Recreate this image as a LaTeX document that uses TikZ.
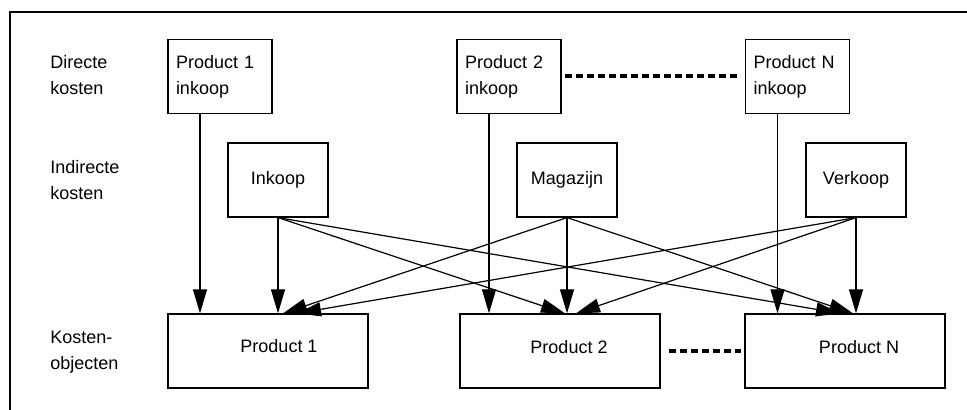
\documentclass[tikz,border=0pt]{standalone}
\usepackage{fontspec}
\setmainfont{Liberation Sans}
\usetikzlibrary{arrows.meta,positioning}

\tikzset{
  kostbox/.style={draw,line width=0.6pt,rectangle,minimum height=37pt,inner sep=0pt},
  directbox/.style={kostbox,minimum width=52pt,text width=44pt,inner xsep=4pt,align=left},
  indirectbox/.style={kostbox,minimum width=50pt},
  objectbox/.style={kostbox,minimum width=100pt},
  rijlabel/.style={anchor=west,align=left,inner sep=0pt},
  pijl/.style={line width=0.6pt,-{Triangle[length=12pt,width=7pt]}},
  puntjes/.style={line width=2pt,dash pattern=on 3.5pt off 2pt}
}

\begin{document}
\begin{tikzpicture}[x=0.5pt,y=-0.5pt,font=\fontsize{9pt}{13pt}\selectfont]
	\useasboundingbox (0,0) rectangle (967,410);
	\draw[line width=0.8pt] (10,410) -- (10,12) -- (967,12);

	% rijen
	\node[rijlabel] (directlab) at (50,75) {Directe\\kosten};
	\node[rijlabel] (indirectlab) at (50,180) {Indirecte\\kosten};
	\node[rijlabel] (objectlab) at (50,352) {Kosten-\\objecten};

	% directe kosten
	\node[directbox] (dir1) at (220,76.5) {Product 1\\inkoop};
	\node[directbox] (dir2) at (509,76.5) {Product 2\\inkoop};
	\node[directbox] (dirN) at (797.5,76.5) {Product N\\inkoop};
	\draw[puntjes] ([xshift=1.5pt]dir2.east) -- ([xshift=-4pt]dirN.west);

	% indirecte kosten
	\node[indirectbox] (ink) at (278,180) {Inkoop};
	\node[indirectbox] (mag) at (567,180) {Magazijn};
	\node[indirectbox] (ver) at (856,180) {Verkoop};

	% kostenobjecten
	\node[objectbox,label={[xshift=5.5pt,yshift=2.5pt]center:Product 1}] (p1) at (268,351) {};
	\node[objectbox,label={[xshift=4.5pt,yshift=2pt]center:Product 2}] (p2) at (560,351) {};
	\node[objectbox,label={[xshift=7pt,yshift=2pt]center:Product N}] (pN) at (845,351) {};
	\draw[puntjes] ([xshift=4pt]p2.east) -- ([xshift=-1.5pt]pN.west);

	% directe toerekening
	\draw[pijl] ([xshift=-10pt]dir1.south) -- ([xshift=-34pt]p1.north);
	\draw[pijl] ([xshift=-10pt]dir2.south) -- ([xshift=-35.5pt]p2.north);
	\draw[pijl] ([xshift=-10pt]dirN.south) -- ([xshift=-33.75pt]pN.north);

	% indirecte toerekening
	\foreach \van/\naar/\dx in {ink/p1/5pt,mag/p1/7.5pt,ver/p1/14.5pt,
	                            ink/p2/2.5pt,mag/p2/3.5pt,ver/p2/8pt,
	                            ink/pN/-2.5pt,mag/pN/4pt,ver/pN/5.5pt}
		\draw[pijl] (\van.south) -- ([xshift=\dx]\naar.north);
\end{tikzpicture}
\end{document}
